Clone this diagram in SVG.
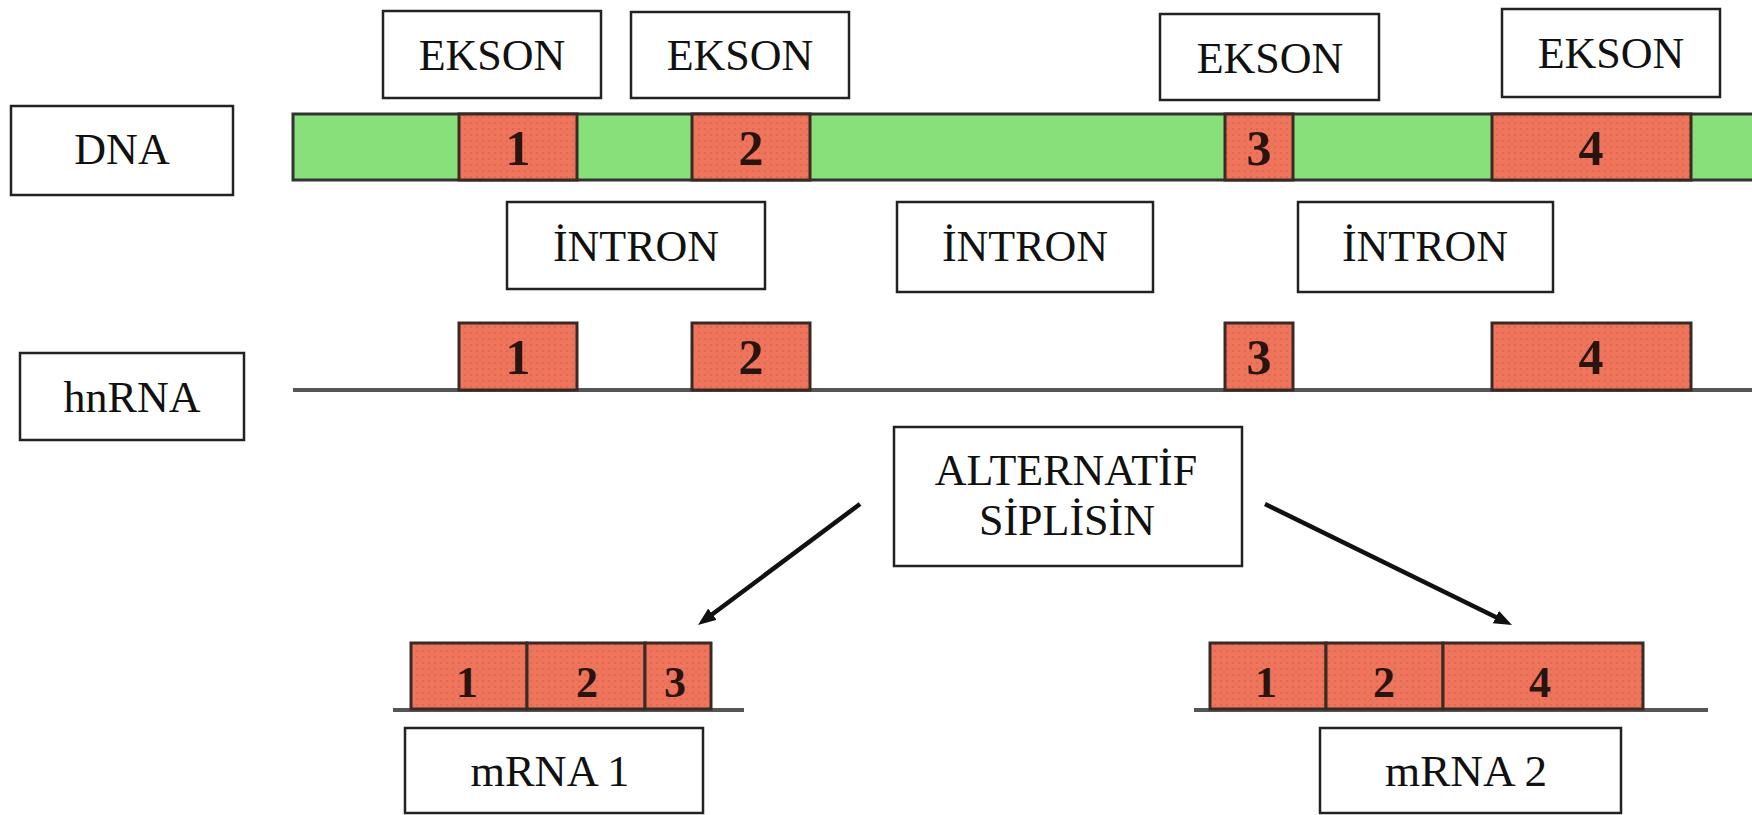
<svg xmlns="http://www.w3.org/2000/svg" width="1752" height="815" viewBox="0 0 1752 815">
<defs>
<pattern id="dots" width="6" height="6" patternUnits="userSpaceOnUse">
<rect width="6" height="6" fill="#EE745B"/>
<circle cx="3" cy="3" r="1" fill="#D35F47" opacity="0.7"/>
</pattern>
<marker id="ah" markerUnits="userSpaceOnUse" markerWidth="20" markerHeight="16" refX="6" refY="7" orient="auto">
<path d="M0,0 L18,7 L0,14 z" fill="#111"/>
</marker>
</defs>
<style>
.box{fill:#fff;stroke:#222;stroke-width:2.5}
.lbl{font-family:"Liberation Serif","Times New Roman",serif;font-size:44px;fill:#111;text-anchor:middle}
.num{font-family:"Liberation Serif","Times New Roman",serif;font-weight:bold;fill:#2a1410;text-anchor:middle}
.dnabar{fill:#88E07A;stroke:#333;stroke-width:3}
.exon{fill:url(#dots);stroke:#3a2a25;stroke-width:3}
.strand{stroke:#555;stroke-width:4;fill:none}
.arrow{stroke:#111;stroke-width:4.5;fill:none;marker-end:url(#ah)}
</style>
<rect width="1752" height="815" fill="#fff"/>

<g id="dna-label"><rect class="box" x="11" y="106" width="222" height="89"/><text class="lbl" x="122" y="164">DNA</text></g>
<g id="hnrna-label"><rect class="box" x="20" y="353" width="224" height="87"/><text class="lbl" x="132" y="412">hnRNA</text></g>

<g id="ekson1"><rect class="box" x="383" y="11" width="218" height="87"/><text class="lbl" x="492" y="70">EKSON</text></g>
<g id="ekson2"><rect class="box" x="631" y="12" width="218" height="86"/><text class="lbl" x="740" y="70">EKSON</text></g>
<g id="ekson3"><rect class="box" x="1160" y="14" width="219" height="86"/><text class="lbl" x="1270" y="73">EKSON</text></g>
<g id="ekson4"><rect class="box" x="1502" y="9" width="218" height="88"/><text class="lbl" x="1611" y="68">EKSON</text></g>

<g id="dna-strand">
<rect class="dnabar" x="293" y="114" width="1470" height="66"/>
<rect class="exon" x="459" y="114" width="118" height="66"/>
<rect class="exon" x="692" y="114" width="118" height="66"/>
<rect class="exon" x="1225" y="114" width="68" height="66"/>
<rect class="exon" x="1492" y="114" width="199" height="66"/>
<text class="num" font-size="50" x="518" y="165">1</text>
<text class="num" font-size="50" x="751" y="165">2</text>
<text class="num" font-size="50" x="1259" y="165">3</text>
<text class="num" font-size="50" x="1591" y="165">4</text>
</g>

<g id="intron1"><rect class="box" x="507" y="202" width="258" height="87"/><text class="lbl" x="636" y="261">İNTRON</text></g>
<g id="intron2"><rect class="box" x="897" y="202" width="256" height="90"/><text class="lbl" x="1025" y="261">İNTRON</text></g>
<g id="intron3"><rect class="box" x="1298" y="202" width="255" height="90"/><text class="lbl" x="1425" y="261">İNTRON</text></g>

<g id="hnrna-strand">
<line class="strand" x1="293" y1="390" x2="1752" y2="390"/>
<rect class="exon" x="459" y="323" width="118" height="67"/>
<rect class="exon" x="692" y="323" width="118" height="67"/>
<rect class="exon" x="1225" y="323" width="68" height="67"/>
<rect class="exon" x="1492" y="323" width="199" height="67"/>
<text class="num" font-size="50" x="518" y="374">1</text>
<text class="num" font-size="50" x="751" y="374">2</text>
<text class="num" font-size="50" x="1259" y="374">3</text>
<text class="num" font-size="50" x="1591" y="374">4</text>
</g>

<g id="splicing"><rect class="box" x="894" y="427" width="348" height="139"/>
<text class="lbl" x="1066" y="485" font-size="43">ALTERNATİF</text>
<text class="lbl" x="1067" y="535" font-size="43">SİPLİSİN</text></g>

<g id="mrna1-strand">
<line class="strand" x1="393" y1="710" x2="744" y2="710"/>
<rect class="exon" x="411" y="643" width="116" height="66"/>
<rect class="exon" x="527" y="643" width="118" height="66"/>
<rect class="exon" x="645" y="643" width="66" height="66"/>
<text class="num" font-size="44" x="467" y="697">1</text>
<text class="num" font-size="44" x="587" y="697">2</text>
<text class="num" font-size="44" x="675" y="697">3</text>
</g>
<g id="mrna1-label"><rect class="box" x="405" y="728" width="298" height="85"/><text class="lbl" x="550" y="786" font-size="36" textLength="159" lengthAdjust="spacingAndGlyphs">mRNA 1</text></g>

<g id="mrna2-strand">
<line class="strand" x1="1194" y1="710" x2="1708" y2="710"/>
<rect class="exon" x="1210" y="643" width="116" height="66"/>
<rect class="exon" x="1326" y="643" width="117" height="66"/>
<rect class="exon" x="1443" y="643" width="200" height="66"/>
<text class="num" font-size="44" x="1266" y="697">1</text>
<text class="num" font-size="44" x="1384" y="697">2</text>
<text class="num" font-size="44" x="1540" y="697">4</text>
</g>
<g id="mrna2-label"><rect class="box" x="1320" y="728" width="301" height="85"/><text class="lbl" x="1466" y="786" font-size="36" textLength="162" lengthAdjust="spacingAndGlyphs">mRNA 2</text></g>

<g id="connectors">
<line class="arrow" x1="860" y1="504" x2="707.6" y2="617.8"/>
<line class="arrow" x1="1265" y1="504" x2="1501.2" y2="619.7"/>
</g>
</svg>
